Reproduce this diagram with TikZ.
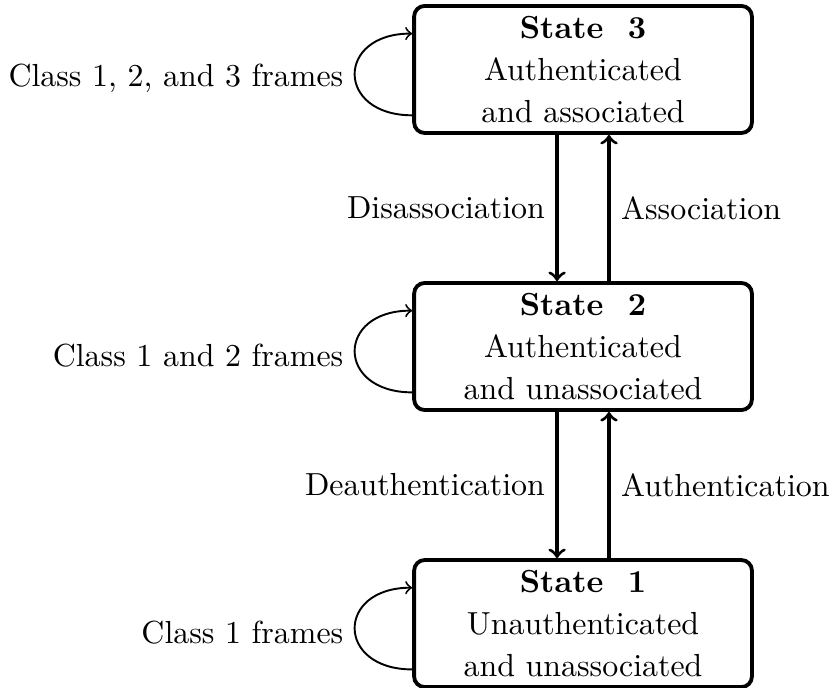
\documentclass[tikz,border=0pt]{standalone}
\usepackage{amsmath,amssymb}
\usetikzlibrary{arrows,positioning,calc}

\begin{document}
\begin{tikzpicture}[node distance=1.61cm,
  every node/.style={font=\fontsize{10pt}{13.2pt}\selectfont},
  state/.style={draw, very thick, rounded corners=3.3pt, align=center, inner ysep=2pt,
    minimum width=3.72cm, minimum height=1.399cm},
  trans/.style={->, line width=1pt},
  selfloop/.style={->, semithick, out=180, in=180, looseness=2.4},
  looplabel/.style={midway, left, yshift=-1.3pt}]
  \useasboundingbox (0,0) rectangle (9.13,-7.577);
  \node (S3) [state] at (6.421,-0.765) {\textbf{State~~3}\\Authenticated\\and associated};
  \node (S2) [state, below=of S3] {\textbf{State~~2}\\Authenticated\\and unassociated};
  \node (S1) [state, below=of S2] {\textbf{State~~1}\\Unauthenticated\\and unassociated};
  % transitions between states
  \draw[trans] ([xshift=-0.286cm]S3.south) -- ([xshift=-0.286cm]S2.north) node[midway,left]{Disassociation};
  \draw[trans] ([xshift=0.286cm]S2.north) -- ([xshift=0.286cm]S3.south) node[midway,right]{Association};
  \draw[trans] ([xshift=-0.286cm]S2.south) -- ([xshift=-0.286cm]S1.north) node[midway,left]{Deauthentication};
  \draw[trans] ([xshift=0.286cm]S1.north) -- ([xshift=0.286cm]S2.south) node[midway,right]{Authentication};
  % self loops
  \draw[selfloop] ([yshift=-0.505cm]S3.west) to node[looplabel]{Class 1, 2, and 3 frames} ([yshift=0.395cm]S3.west);
  \draw[selfloop] ([yshift=-0.505cm]S2.west) to node[looplabel]{Class 1 and 2 frames} ([yshift=0.395cm]S2.west);
  \draw[selfloop] ([yshift=-0.505cm]S1.west) to node[looplabel]{Class 1 frames} ([yshift=0.395cm]S1.west);
\end{tikzpicture}
\end{document}
